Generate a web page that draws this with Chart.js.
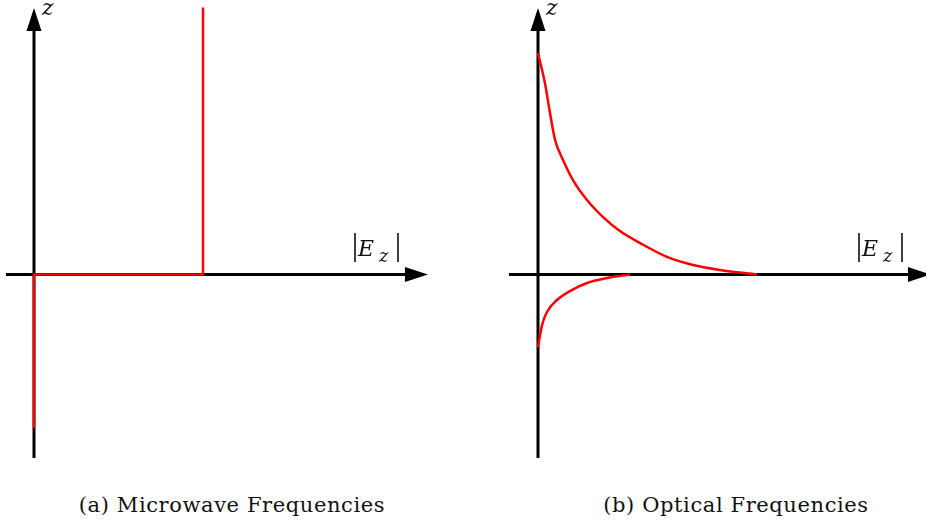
<!DOCTYPE html>
<html>
<head>
<meta charset="utf-8">
<script src="https://cdn.jsdelivr.net/npm/chart.js@4.4.1/dist/chart.umd.min.js"></script>
<style>
  body { margin: 0; background: #fff; }
  #wrap { position: relative; width: 926px; height: 529px; overflow: hidden; }
  canvas { position: absolute; top: 0; }
  .caption {
    position: absolute; top: 493px; width: 400px; text-align: center;
    font-family: 'DejaVu Serif', serif; font-size: 21px; letter-spacing: 0.6px; color: #111;
  }
</style>
</head>
<body>
<div id="wrap">
  <canvas id="micro" width="463" height="470" style="left:0"></canvas>
  <canvas id="optic" width="463" height="470" style="left:463px"></canvas>
  <div class="caption" style="left:32px">(a) Microwave Frequencies</div>
  <div class="caption" style="left:536px">(b) Optical Frequencies</div>
</div>
<script>
// field magnitude |Ez| (x) against height z (y), both in the same units

// (a) metal boundary: field is a step
var stepE = [0, 0, 1, 1];
var stepZ = [-0.91, 0, 0, 1.58];

// (b) dielectric boundary: decaying tails above and below
var upperE = [0, 0.041, 0.071, 0.101, 0.148, 0.207, 0.29, 0.385, 0.485, 0.604, 0.763, 0.917, 1.077, 1.296];
var upperZ = [1.31, 1.133, 0.956, 0.796, 0.678, 0.559, 0.441, 0.34, 0.257, 0.186, 0.104, 0.056, 0.027, 0];
var lowerE = [0, 0.024, 0.053, 0.112, 0.189, 0.29, 0.408, 0.544];
var lowerZ = [-0.43, -0.299, -0.222, -0.151, -0.098, -0.05, -0.021, 0];

// axis extents: [start, arrow tip]
var microHAxis = [-0.166, 2.331];
var opticHAxis = [-0.172, 2.325];
var vAxis = [-1.086, 1.577];

var PX = 169;          // pixels per unit
var ARROW_LEN = 23;    // arrowhead length, px
var ARROW_HALF = 7.5;  // arrowhead half width, px

function pts(xs, ys) {
  var out = [];
  for (var i = 0; i < xs.length; i++) out.push({x: xs[i], y: ys[i]});
  return out;
}

function axisSets(hAxis) {
  var cut = 15 / PX;
  return [
    {data: [{x: hAxis[0], y: 0}, {x: hAxis[1] - cut, y: 0}], borderColor: '#000', borderWidth: 3, order: 2},
    {data: [{x: 0, y: vAxis[0]}, {x: 0, y: vAxis[1] - cut}], borderColor: '#000', borderWidth: 3, order: 2}
  ];
}

// arrowheads and axis names
var decor = {
  id: 'decor',
  afterDatasetsDraw: function(chart, args, opts) {
    var ctx = chart.ctx;
    var xs = chart.scales.x, ys = chart.scales.y;
    var ox = xs.getPixelForValue(0), oy = ys.getPixelForValue(0);
    var hx = xs.getPixelForValue(opts.hTip), vy = ys.getPixelForValue(vAxis[1]);
    ctx.save();
    ctx.fillStyle = '#000';
    ctx.beginPath();
    ctx.moveTo(hx, oy);
    ctx.lineTo(hx - ARROW_LEN, oy - ARROW_HALF);
    ctx.lineTo(hx - ARROW_LEN, oy + ARROW_HALF);
    ctx.closePath();
    ctx.fill();
    ctx.beginPath();
    ctx.moveTo(ox, vy);
    ctx.lineTo(ox - ARROW_HALF, vy + ARROW_LEN);
    ctx.lineTo(ox + ARROW_HALF, vy + ARROW_LEN);
    ctx.closePath();
    ctx.fill();

    ctx.fillStyle = '#111';
    ctx.textBaseline = 'alphabetic';
    ctx.font = 'italic 22px "DejaVu Serif"';
    ctx.fillText('z', ox + 8, 15);

    // |E_z|
    var lx = ox + 321;
    ctx.fillRect(lx - 0.8, 233, 1.6, 29);
    ctx.fillRect(lx + 43 - 0.8, 233, 1.6, 29);
    ctx.font = 'italic 22px "DejaVu Serif"';
    ctx.fillText('E', lx + 3, 256);
    ctx.font = 'italic 18px "DejaVu Serif"';
    ctx.fillText('z', lx + 24, 262);
    ctx.restore();
  }
};

function makeChart(id, originX, hTip, datasets) {
  var w = 463, h = 470, oy = 274.5;
  new Chart(document.getElementById(id), {
    type: 'line',
    data: {datasets: datasets},
    options: {
      responsive: false,
      animation: false,
      elements: {point: {radius: 0}},
      layout: {padding: 0},
      scales: {
        x: {type: 'linear', display: false, min: -originX / PX, max: (w - originX) / PX},
        y: {type: 'linear', display: false, min: -(h - oy) / PX, max: oy / PX}
      },
      plugins: {legend: {display: false}, tooltip: {enabled: false}, decor: {hTip: hTip}}
    },
    plugins: [decor]
  });
}

makeChart('micro', 34, microHAxis[1], [
  {data: pts(stepE, stepZ), borderColor: '#ff0000', borderWidth: 2.5, tension: 0, order: 0}
].concat(axisSets(microHAxis)));

makeChart('optic', 75, opticHAxis[1], [
  {data: pts(upperE, upperZ), borderColor: '#ff0000', borderWidth: 2.5, cubicInterpolationMode: 'monotone', order: 0},
  {data: pts(lowerE, lowerZ), borderColor: '#ff0000', borderWidth: 2.5, cubicInterpolationMode: 'monotone', order: 0}
].concat(axisSets(opticHAxis)));
</script>
</body>
</html>
